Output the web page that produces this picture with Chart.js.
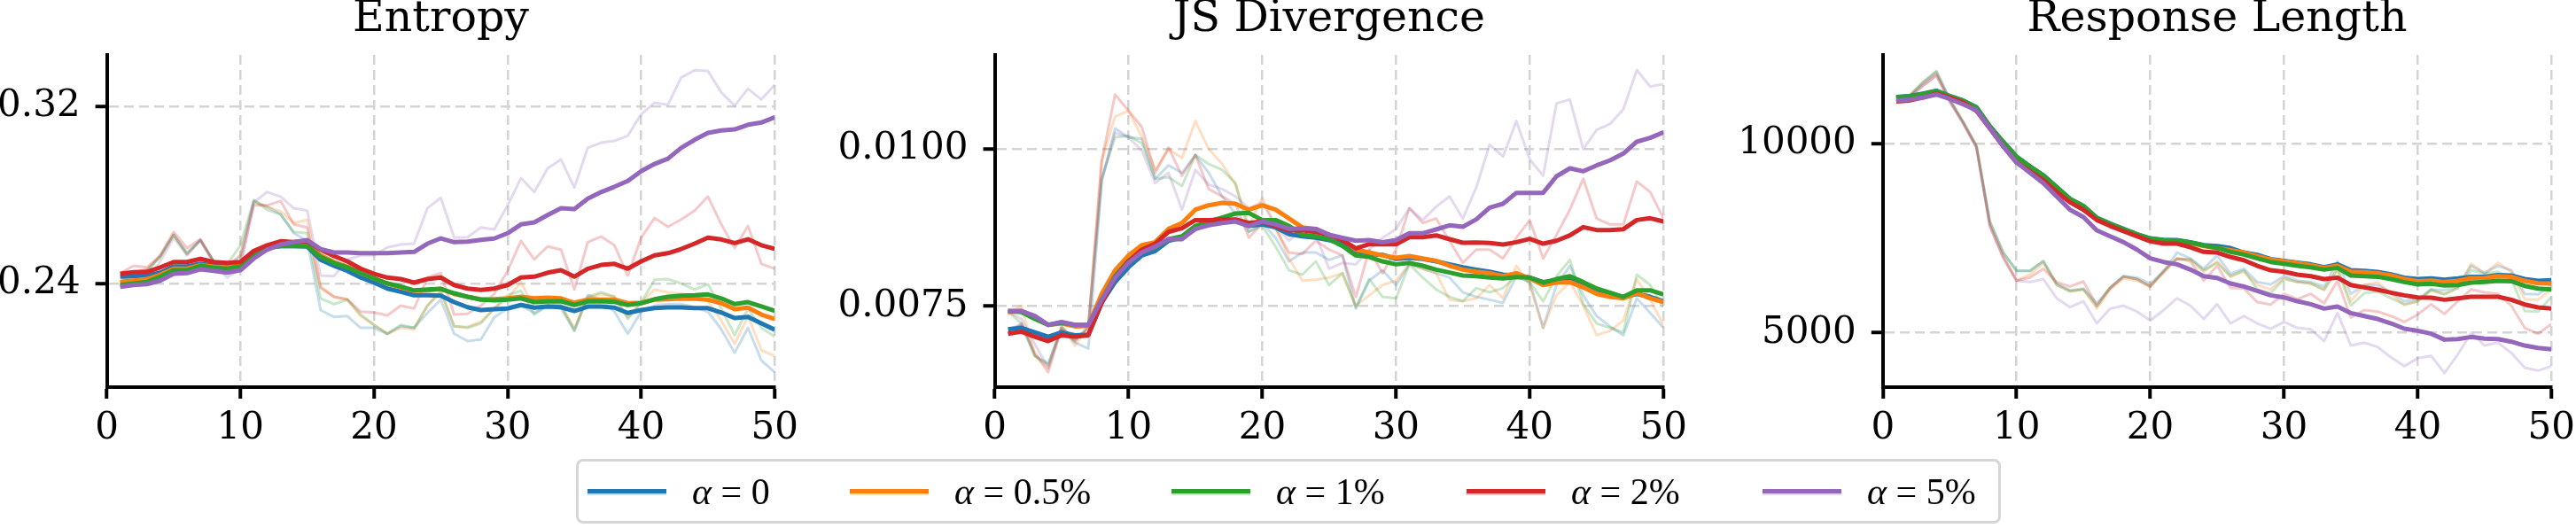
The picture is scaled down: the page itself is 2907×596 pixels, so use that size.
<!DOCTYPE html>
<html>
<head>
<meta charset="utf-8">
<script src="https://cdn.jsdelivr.net/npm/chart.js@4.4.0/dist/chart.umd.min.js"></script>
<style>
  html, body { margin: 0; padding: 0; background: #fff; }
  body { width: 2907px; height: 596px; position: relative; overflow: hidden; }
  canvas { position: absolute; top: 0; }
  #legend {
    position: absolute; left: 650px; top: 518px; width: 1608px; height: 73px;
    box-sizing: border-box; border: 3px solid #d6d6d6; border-radius: 8px; background: #fff;
  }
  .item { position: absolute; top: 0; height: 67px; display: flex; align-items: center; white-space: nowrap; }
  .swatch { width: 89px; height: 5px; margin-right: 29px; }
  .label { font-family: "Liberation Serif", serif; font-size: 42px; color: #000; }
</style>
</head>
<body>
<canvas id="entropy" width="910" height="520" style="left:0px"></canvas>
<canvas id="jsdiv" width="973" height="520" style="left:940px"></canvas>
<canvas id="resplen" width="975" height="520" style="left:1940px"></canvas>
<div id="legend"></div>
<script>
// training steps
const steps = [1, 2, 3, 4, 5, 6, 7, 8, 9, 10, 11, 12, 13, 14, 15, 16, 17, 18, 19, 20,
  21, 22, 23, 24, 25, 26, 27, 28, 29, 30, 31, 32, 33, 34, 35, 36, 37, 38, 39, 40,
  41, 42, 43, 44, 45, 46, 47, 48, 49, 50];

const alphaLabels = ["0", "0.5%", "1%", "2%", "5%"];
const colors = ["#1f77b4", "#ff7f0e", "#2ca02c", "#d62728", "#9467bd"];
const faded = ["rgba(31,119,180,0.25)", "rgba(255,127,14,0.25)", "rgba(44,160,44,0.25)",
  "rgba(214,39,40,0.25)", "rgba(148,103,189,0.25)"];

const titles = ["Entropy", "JS Divergence", "Response Length"];

// ---- Entropy (smoothed) ----
const entropyA0 = [0.2431, 0.2433, 0.2436, 0.2449, 0.2477, 0.2477, 0.2489, 0.2480, 0.2473, 0.2480,
  0.2527, 0.2560, 0.2569, 0.2569, 0.2567, 0.2507, 0.2480, 0.2457, 0.2427, 0.2404,
  0.2377, 0.2363, 0.2347, 0.2347, 0.2345, 0.2316, 0.2293, 0.2280, 0.2284, 0.2287,
  0.2303, 0.2291, 0.2296, 0.2293, 0.2276, 0.2296, 0.2296, 0.2291, 0.2267, 0.2280,
  0.2289, 0.2292, 0.2292, 0.2289, 0.2289, 0.2269, 0.2244, 0.2249, 0.2220, 0.2191];
const entropyA05 = [0.2407, 0.2413, 0.2420, 0.2440, 0.2467, 0.2467, 0.2483, 0.2476, 0.2473, 0.2480,
  0.2533, 0.2567, 0.2580, 0.2580, 0.2580, 0.2527, 0.2497, 0.2476, 0.2447, 0.2423,
  0.2400, 0.2383, 0.2367, 0.2369, 0.2376, 0.2353, 0.2340, 0.2329, 0.2329, 0.2333,
  0.2340, 0.2333, 0.2336, 0.2333, 0.2313, 0.2327, 0.2327, 0.2327, 0.2311, 0.2313,
  0.2327, 0.2329, 0.2332, 0.2331, 0.2327, 0.2311, 0.2284, 0.2291, 0.2260, 0.2240];
const entropyA1 = [0.2393, 0.2400, 0.2407, 0.2431, 0.2460, 0.2460, 0.2480, 0.2471, 0.2467, 0.2476,
  0.2529, 0.2563, 0.2569, 0.2569, 0.2569, 0.2520, 0.2493, 0.2473, 0.2447, 0.2423,
  0.2400, 0.2387, 0.2369, 0.2373, 0.2376, 0.2356, 0.2340, 0.2327, 0.2324, 0.2327,
  0.2333, 0.2316, 0.2319, 0.2320, 0.2303, 0.2319, 0.2320, 0.2317, 0.2303, 0.2311,
  0.2329, 0.2340, 0.2345, 0.2347, 0.2351, 0.2333, 0.2307, 0.2316, 0.2297, 0.2277];
const entropyA2 = [0.2444, 0.2451, 0.2453, 0.2473, 0.2497, 0.2497, 0.2511, 0.2497, 0.2493, 0.2497,
  0.2547, 0.2573, 0.2591, 0.2587, 0.2591, 0.2553, 0.2524, 0.2500, 0.2467, 0.2444,
  0.2427, 0.2420, 0.2404, 0.2420, 0.2427, 0.2393, 0.2377, 0.2371, 0.2377, 0.2393,
  0.2427, 0.2431, 0.2449, 0.2460, 0.2431, 0.2467, 0.2484, 0.2489, 0.2467, 0.2500,
  0.2527, 0.2537, 0.2556, 0.2580, 0.2607, 0.2599, 0.2583, 0.2600, 0.2573, 0.2557];
const entropyA5 = [0.2385, 0.2393, 0.2397, 0.2413, 0.2444, 0.2447, 0.2464, 0.2457, 0.2449, 0.2460,
  0.2513, 0.2553, 0.2576, 0.2587, 0.2596, 0.2556, 0.2540, 0.2540, 0.2537, 0.2537,
  0.2537, 0.2540, 0.2543, 0.2580, 0.2604, 0.2587, 0.2589, 0.2597, 0.2603, 0.2627,
  0.2667, 0.2676, 0.2709, 0.2740, 0.2736, 0.2783, 0.2813, 0.2837, 0.2863, 0.2907,
  0.2940, 0.2964, 0.3013, 0.3049, 0.3080, 0.3091, 0.3096, 0.3117, 0.3127, 0.3151];

// ---- Entropy (raw) ----
const entropyRawA0 = [0.2407, 0.2447, 0.2453, 0.2527, 0.2620, 0.2540, 0.2596, 0.2500, 0.2473, 0.2527,
  0.2773, 0.2747, 0.2713, 0.2627, 0.2593, 0.2280, 0.2249, 0.2253, 0.2200, 0.2200,
  0.2173, 0.2207, 0.2200, 0.2267, 0.2327, 0.2173, 0.2140, 0.2147, 0.2247, 0.2287,
  0.2300, 0.2267, 0.2300, 0.2287, 0.2187, 0.2347, 0.2327, 0.2273, 0.2173, 0.2273,
  0.2300, 0.2307, 0.2307, 0.2293, 0.2273, 0.2193, 0.2087, 0.2200, 0.2053, 0.2000];
const entropyRawA05 = [0.2407, 0.2447, 0.2467, 0.2520, 0.2620, 0.2533, 0.2593, 0.2500, 0.2480, 0.2527,
  0.2767, 0.2747, 0.2727, 0.2673, 0.2687, 0.2387, 0.2340, 0.2327, 0.2253, 0.2213,
  0.2173, 0.2200, 0.2193, 0.2300, 0.2360, 0.2207, 0.2204, 0.2227, 0.2287, 0.2333,
  0.2407, 0.2287, 0.2313, 0.2300, 0.2200, 0.2333, 0.2353, 0.2340, 0.2247, 0.2313,
  0.2373, 0.2360, 0.2353, 0.2347, 0.2320, 0.2233, 0.2127, 0.2253, 0.2100, 0.2073];
const entropyRawA1 = [0.2393, 0.2433, 0.2460, 0.2520, 0.2620, 0.2533, 0.2596, 0.2500, 0.2487, 0.2573,
  0.2777, 0.2733, 0.2713, 0.2633, 0.2627, 0.2333, 0.2307, 0.2327, 0.2260, 0.2213,
  0.2173, 0.2213, 0.2200, 0.2300, 0.2367, 0.2207, 0.2200, 0.2220, 0.2287, 0.2347,
  0.2367, 0.2260, 0.2300, 0.2303, 0.2187, 0.2340, 0.2360, 0.2340, 0.2240, 0.2313,
  0.2417, 0.2420, 0.2400, 0.2373, 0.2397, 0.2287, 0.2167, 0.2287, 0.2200, 0.2160];
const entropyRawA2 = [0.2447, 0.2480, 0.2473, 0.2527, 0.2633, 0.2560, 0.2600, 0.2500, 0.2493, 0.2500,
  0.2753, 0.2753, 0.2773, 0.2667, 0.2653, 0.2380, 0.2340, 0.2329, 0.2273, 0.2269,
  0.2256, 0.2300, 0.2287, 0.2427, 0.2447, 0.2260, 0.2263, 0.2300, 0.2353, 0.2457,
  0.2593, 0.2509, 0.2567, 0.2553, 0.2373, 0.2587, 0.2612, 0.2573, 0.2436, 0.2607,
  0.2696, 0.2656, 0.2689, 0.2729, 0.2793, 0.2667, 0.2560, 0.2660, 0.2489, 0.2467];
const entropyRawA5 = [0.2387, 0.2393, 0.2407, 0.2500, 0.2607, 0.2527, 0.2596, 0.2487, 0.2427, 0.2467,
  0.2767, 0.2813, 0.2793, 0.2740, 0.2729, 0.2436, 0.2433, 0.2507, 0.2527, 0.2527,
  0.2563, 0.2576, 0.2580, 0.2740, 0.2787, 0.2607, 0.2609, 0.2653, 0.2644, 0.2753,
  0.2876, 0.2813, 0.2920, 0.2960, 0.2833, 0.3013, 0.3036, 0.3044, 0.3067, 0.3164,
  0.3216, 0.3207, 0.3331, 0.3363, 0.3360, 0.3263, 0.3203, 0.3280, 0.3231, 0.3297];

// ---- JS divergence (smoothed) ----
const jsA0 = [0.007133, 0.007157, 0.007086, 0.007016, 0.007086, 0.007039, 0.007049, 0.007556, 0.007885, 0.008120,
  0.008308, 0.008379, 0.008543, 0.008590, 0.008731, 0.008802, 0.008849, 0.008863, 0.008778, 0.008802,
  0.008755, 0.008647, 0.008614, 0.008590, 0.008553, 0.008496, 0.008379, 0.008332, 0.008318, 0.008252,
  0.008271, 0.008252, 0.008214, 0.008167, 0.008120, 0.008083, 0.008050, 0.008003, 0.007989, 0.007956,
  0.007885, 0.007909, 0.007932, 0.007838, 0.007768, 0.007697, 0.007641, 0.007697, 0.007650, 0.007580];
const jsA05 = [0.007406, 0.007425, 0.007321, 0.007204, 0.007227, 0.007180, 0.007190, 0.007697, 0.008073, 0.008308,
  0.008473, 0.008520, 0.008731, 0.008825, 0.009037, 0.009107, 0.009145, 0.009131, 0.009037, 0.009107,
  0.009037, 0.008896, 0.008755, 0.008731, 0.008637, 0.008567, 0.008402, 0.008355, 0.008308, 0.008271,
  0.008299, 0.008261, 0.008224, 0.008144, 0.008083, 0.008050, 0.008026, 0.007979, 0.008026, 0.007942,
  0.007838, 0.007876, 0.007885, 0.007801, 0.007697, 0.007650, 0.007627, 0.007707, 0.007627, 0.007566];
const jsA1 = [0.007425, 0.007406, 0.007298, 0.007204, 0.007237, 0.007204, 0.007204, 0.007603, 0.007979, 0.008224,
  0.008379, 0.008440, 0.008567, 0.008614, 0.008778, 0.008849, 0.008910, 0.008976, 0.008985, 0.008872,
  0.008872, 0.008778, 0.008637, 0.008614, 0.008567, 0.008459, 0.008308, 0.008285, 0.008214, 0.008167,
  0.008191, 0.008144, 0.008083, 0.008036, 0.007989, 0.007979, 0.007956, 0.007942, 0.007965, 0.007956,
  0.007876, 0.007932, 0.007979, 0.007885, 0.007782, 0.007716, 0.007650, 0.007754, 0.007754, 0.007688];
const jsA2 = [0.007063, 0.007096, 0.007016, 0.006945, 0.007039, 0.007016, 0.007039, 0.007556, 0.007956, 0.008214,
  0.008402, 0.008496, 0.008684, 0.008741, 0.008872, 0.008872, 0.008882, 0.008882, 0.008825, 0.008849,
  0.008778, 0.008708, 0.008708, 0.008684, 0.008637, 0.008553, 0.008421, 0.008487, 0.008487, 0.008487,
  0.008600, 0.008600, 0.008628, 0.008567, 0.008511, 0.008515, 0.008506, 0.008482, 0.008520, 0.008572,
  0.008496, 0.008543, 0.008628, 0.008760, 0.008713, 0.008713, 0.008727, 0.008872, 0.008901, 0.008849];
const jsA5 = [0.007425, 0.007425, 0.007345, 0.007204, 0.007251, 0.007204, 0.007204, 0.007603, 0.007956, 0.008191,
  0.008355, 0.008449, 0.008567, 0.008567, 0.008731, 0.008788, 0.008825, 0.008849, 0.008778, 0.008849,
  0.008802, 0.008731, 0.008741, 0.008731, 0.008637, 0.008590, 0.008543, 0.008553, 0.008520, 0.008553,
  0.008661, 0.008661, 0.008722, 0.008788, 0.008764, 0.008882, 0.009070, 0.009131, 0.009305, 0.009305,
  0.009305, 0.009568, 0.009695, 0.009648, 0.009742, 0.009822, 0.009930, 0.010118, 0.010179, 0.010268];

// ---- JS divergence (raw) ----
const jsRawA0 = [0.007133, 0.007204, 0.006710, 0.006593, 0.007133, 0.006922, 0.006828, 0.009483, 0.010329, 0.010188,
  0.010165, 0.009530, 0.009742, 0.009624, 0.009906, 0.009624, 0.009248, 0.008966, 0.008684, 0.008825,
  0.008590, 0.008214, 0.008355, 0.008355, 0.008238, 0.008308, 0.007462, 0.007909, 0.008073, 0.007838,
  0.008167, 0.008097, 0.008026, 0.007956, 0.007721, 0.007650, 0.007603, 0.007556, 0.007979, 0.007885,
  0.007157, 0.007838, 0.008144, 0.007674, 0.007345, 0.007180, 0.007039, 0.007627, 0.007392, 0.007157];
const jsRawA05 = [0.007392, 0.007509, 0.006710, 0.006522, 0.007180, 0.006875, 0.007180, 0.009812, 0.010517, 0.010611,
  0.010188, 0.009671, 0.010000, 0.009859, 0.010447, 0.010000, 0.009765, 0.009436, 0.008778, 0.009225,
  0.008778, 0.008261, 0.007909, 0.007923, 0.007956, 0.008026, 0.007509, 0.007674, 0.007838, 0.007909,
  0.008167, 0.008097, 0.008026, 0.007603, 0.007580, 0.007627, 0.007838, 0.007627, 0.008144, 0.007838,
  0.007157, 0.007674, 0.007885, 0.007509, 0.007039, 0.007110, 0.007274, 0.007932, 0.007603, 0.007204];
const jsRawA1 = [0.007415, 0.007227, 0.006710, 0.006569, 0.007180, 0.006945, 0.007180, 0.009530, 0.010188, 0.010212,
  0.010094, 0.009530, 0.009554, 0.009413, 0.009906, 0.009765, 0.009671, 0.009460, 0.008684, 0.008778,
  0.008449, 0.008073, 0.008003, 0.008214, 0.007838, 0.008026, 0.007486, 0.007932, 0.007650, 0.007627,
  0.008167, 0.007956, 0.007768, 0.007650, 0.007580, 0.007791, 0.007721, 0.007791, 0.007979, 0.007885,
  0.007580, 0.007979, 0.008238, 0.007533, 0.007227, 0.007157, 0.007086, 0.008003, 0.007838, 0.007486];
const jsRawA2 = [0.007063, 0.007227, 0.006757, 0.006452, 0.007157, 0.006969, 0.007133, 0.009812, 0.010870, 0.010611,
  0.010353, 0.009624, 0.010024, 0.009577, 0.009906, 0.009366, 0.009248, 0.009131, 0.008590, 0.008825,
  0.008731, 0.008355, 0.008332, 0.008543, 0.008402, 0.008308, 0.007650, 0.008402, 0.008026, 0.008402,
  0.009060, 0.008825, 0.008896, 0.008543, 0.008191, 0.008402, 0.008402, 0.008261, 0.008590, 0.008872,
  0.008261, 0.008637, 0.009037, 0.009530, 0.008896, 0.008802, 0.008802, 0.009483, 0.009319, 0.008896];
const jsRawA5 = [0.007415, 0.007298, 0.006898, 0.006522, 0.007133, 0.006945, 0.007180, 0.009530, 0.010259, 0.010188,
  0.009977, 0.009460, 0.009624, 0.009037, 0.009671, 0.009436, 0.009366, 0.009248, 0.009060, 0.009154,
  0.008778, 0.008543, 0.008731, 0.008637, 0.008097, 0.008191, 0.008167, 0.008402, 0.008590, 0.008731,
  0.009060, 0.008872, 0.009084, 0.009248, 0.008896, 0.009389, 0.010071, 0.009883, 0.010447, 0.009836,
  0.009577, 0.010729, 0.010790, 0.010000, 0.010306, 0.010400, 0.010635, 0.011260, 0.010997, 0.011034];

// ---- Response length (smoothed) ----
const lenA0 = [11242, 11266, 11328, 11406, 11266, 11148, 10969, 10469, 10055, 9664,
  9406, 9172, 8859, 8547, 8359, 8047, 7891, 7750, 7609, 7500,
  7461, 7453, 7398, 7320, 7297, 7242, 7125, 7063, 6953, 6906,
  6859, 6813, 6734, 6813, 6656, 6641, 6609, 6547, 6461, 6422,
  6438, 6406, 6438, 6484, 6484, 6531, 6516, 6422, 6375, 6391];
const lenA05 = [11219, 11242, 11305, 11383, 11242, 11125, 10945, 10445, 10031, 9641,
  9383, 9148, 8836, 8523, 8336, 8023, 7867, 7727, 7586, 7477,
  7438, 7430, 7375, 7297, 7242, 7188, 7125, 7031, 6938, 6891,
  6844, 6789, 6719, 6773, 6617, 6602, 6578, 6516, 6422, 6367,
  6383, 6344, 6375, 6445, 6453, 6500, 6484, 6375, 6313, 6305];
const lenA1 = [11234, 11258, 11320, 11398, 11258, 11141, 10961, 10461, 10047, 9656,
  9398, 9164, 8852, 8539, 8352, 8039, 7883, 7742, 7602, 7492,
  7453, 7445, 7391, 7313, 7250, 7141, 7070, 6969, 6875, 6828,
  6773, 6734, 6672, 6719, 6516, 6500, 6484, 6422, 6344, 6281,
  6297, 6250, 6266, 6328, 6344, 6375, 6367, 6242, 6172, 6148];
const lenA2 = [11125, 11148, 11227, 11328, 11227, 11094, 10875, 10406, 9938, 9508,
  9273, 9039, 8727, 8453, 8258, 7984, 7828, 7688, 7555, 7422,
  7359, 7359, 7266, 7141, 7125, 7008, 6922, 6773, 6656, 6617,
  6539, 6500, 6422, 6461, 6266, 6203, 6141, 6063, 5992, 5938,
  5930, 5875, 5914, 5953, 5953, 5953, 5875, 5750, 5672, 5641];
const lenA5 = [11148, 11172, 11227, 11305, 11188, 11047, 10891, 10422, 9938, 9508,
  9234, 8961, 8609, 8258, 8063, 7711, 7555, 7398, 7203, 6969,
  6875, 6813, 6672, 6500, 6453, 6305, 6227, 6109, 5992, 5938,
  5836, 5758, 5641, 5695, 5523, 5445, 5367, 5250, 5109, 5055,
  4977, 4820, 4836, 4891, 4844, 4836, 4766, 4664, 4602, 4563];

// ---- Response length (raw) ----
const lenRawA0 = [11250, 11266, 11617, 11906, 11172, 10578, 9938, 7945, 7125, 6641,
  6641, 6891, 6305, 6125, 6172, 5781, 6188, 6500, 6461, 6305,
  6617, 7125, 6969, 6695, 7047, 6563, 6695, 6344, 6281, 6500,
  6383, 6344, 6227, 6891, 6031, 6266, 6266, 6070, 5836, 5891,
  6148, 6125, 6227, 6773, 6578, 6773, 6656, 6031, 6016, 6266];
const lenRawA05 = [11227, 11281, 11594, 11875, 11148, 10563, 9938, 7867, 7047, 6383,
  6539, 6852, 6266, 6109, 6148, 5641, 6148, 6438, 6383, 6227,
  6594, 6969, 6930, 6617, 6891, 6484, 6617, 6266, 6148, 6461,
  6344, 6305, 6125, 6695, 5836, 6266, 6344, 6031, 5734, 5836,
  6109, 6031, 6188, 6828, 6578, 6852, 6617, 5891, 5875, 6148];
const lenRawA1 = [11242, 11281, 11641, 11930, 11188, 10594, 9953, 7945, 7125, 6641,
  6641, 6906, 6266, 6094, 6148, 5703, 6203, 6500, 6422, 6227,
  6656, 6953, 6953, 6656, 6852, 6500, 6656, 6148, 6047, 6422,
  6344, 6305, 6148, 6695, 5719, 6047, 6094, 5914, 5758, 5836,
  6148, 6016, 6188, 6656, 6563, 6617, 6422, 5578, 5563, 5953];
const lenRawA2 = [11203, 11250, 11539, 11813, 11125, 10547, 9898, 7828, 7008, 6383,
  6461, 6695, 6344, 6227, 6359, 5719, 6188, 6484, 6422, 6227,
  6617, 6969, 6891, 6383, 6773, 6188, 6172, 5813, 5750, 6031,
  5891, 6031, 5781, 6383, 5406, 5602, 5563, 5445, 5289, 5484,
  5758, 5500, 5836, 6148, 6070, 6031, 5719, 5133, 4977, 5234];
const lenRawA5 = [11203, 11250, 11539, 11813, 11125, 10547, 9898, 7828, 6969, 6383,
  6344, 6422, 5914, 5680, 5836, 5250, 5641, 5719, 5563, 5328,
  5602, 5914, 5719, 5367, 5758, 5250, 5445, 5250, 5109, 5289,
  5133, 5094, 4781, 5523, 4664, 4742, 4625, 4352, 4117, 4328,
  4391, 3938, 4430, 5000, 4664, 4742, 4469, 4078, 4000, 4117];

// y tick values / labels
const entropyTicks = [0.24, 0.32];
const entropyTickLabels = ["0.24", "0.32"];
const jsTicks = [0.0075, 0.0100];
const jsTickLabels = ["0.0075", "0.0100"];
const lenTicks = [5000, 10000];
const lenTickLabels = ["5000", "10000"];

Chart.defaults.font.family = "'DejaVu Serif', serif";
Chart.defaults.color = "#000";

const gridStyle = {
  color: "#d4d4d4",
  lineWidth: 2.5,
  tickColor: "#000",
  tickWidth: 4,
  tickLength: 13,
  tickBorderDash: []
};
const borderStyle = { display: true, color: "#000", width: 4, dash: [11, 6] };

function makePanel(id, title, smooth, raw, yMin, yMax, yTicks, yLabels, yAxisWidth, padRight) {
  const datasets = [];
  raw.forEach((vals, k) => {
    datasets.push({
      data: vals.map((v, i) => ({ x: steps[i], y: v })),
      borderColor: faded[k],
      borderWidth: 3,
      pointRadius: 0,
      borderJoinStyle: "round",
      order: 20 - k
    });
  });
  smooth.forEach((vals, k) => {
    datasets.push({
      data: vals.map((v, i) => ({ x: steps[i], y: v })),
      borderColor: colors[k],
      borderWidth: 5,
      pointRadius: 0,
      borderJoinStyle: "round",
      order: 10 - k
    });
  });

  new Chart(document.getElementById(id), {
    type: "line",
    data: { datasets },
    options: {
      responsive: false,
      animation: false,
      devicePixelRatio: 1,
      layout: { padding: { left: 0, right: padRight, top: 0, bottom: 0 } },
      plugins: {
        legend: { display: false },
        tooltip: { enabled: false },
        title: {
          display: true,
          text: title,
          fullSize: false,
          color: "#000",
          font: { size: 49, weight: "normal", lineHeight: 0.9 },
          padding: { top: 0, bottom: 18 }
        }
      },
      scales: {
        x: {
          type: "linear",
          min: 0,
          max: 50,
          ticks: { stepSize: 10, font: { size: 42 }, padding: 9, maxRotation: 0, color: "#000" },
          grid: gridStyle,
          border: borderStyle,
          afterFit: (s) => { s.height = 83; }
        },
        y: {
          type: "linear",
          min: yMin,
          max: yMax,
          afterBuildTicks: (s) => { s.ticks = yTicks.map((v) => ({ value: v })); },
          ticks: { font: { size: 42 }, padding: 17, color: "#000", callback: (v, i) => yLabels[i] },
          grid: gridStyle,
          border: borderStyle,
          afterFit: (s) => { s.width = yAxisWidth; }
        }
      }
    }
  });
}

makePanel("entropy", titles[0],
  [entropyA0, entropyA05, entropyA1, entropyA2, entropyA5],
  [entropyRawA0, entropyRawA05, entropyRawA1, entropyRawA2, entropyRawA5],
  0.1932, 0.3432, entropyTicks, entropyTickLabels, 120.6, 32.5);

makePanel("jsdiv", titles[1],
  [jsA0, jsA05, jsA1, jsA2, jsA5],
  [jsRawA0, jsRawA05, jsRawA1, jsRawA2, jsRawA5],
  0.006213, 0.011498, jsTicks, jsTickLabels, 182.5, 33);

makePanel("resplen", titles[2],
  [lenA0, lenA05, lenA1, lenA2, lenA5],
  [lenRawA0, lenRawA05, lenRawA1, lenRawA2, lenRawA5],
  3563, 12351, lenTicks, lenTickLabels, 184.8, 32.4);

// legend (HTML)
const legendX = [10, 306, 669, 1002, 1336];
const legend = document.getElementById("legend");
alphaLabels.forEach((lab, k) => {
  const item = document.createElement("div");
  item.className = "item";
  item.style.left = legendX[k] + "px";
  const sw = document.createElement("div");
  sw.className = "swatch";
  sw.style.background = colors[k];
  sw.style.boxShadow = "0 2px 0 " + faded[k];
  const txt = document.createElement("span");
  txt.className = "label";
  txt.innerHTML = "<i>α</i> = " + lab;
  item.appendChild(sw);
  item.appendChild(txt);
  legend.appendChild(item);
});
</script>
</body>
</html>
